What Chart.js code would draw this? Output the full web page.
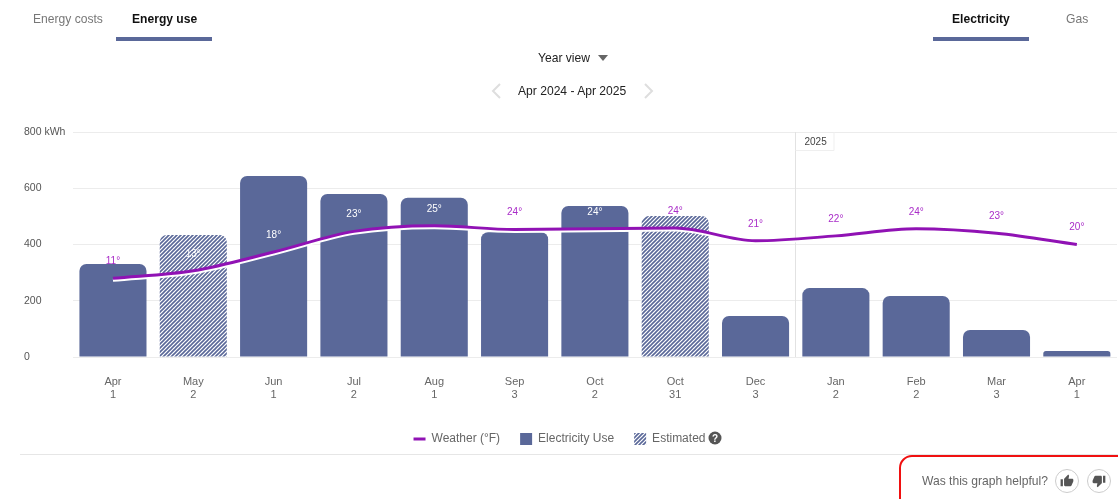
<!DOCTYPE html>
<html><head><meta charset="utf-8">
<script src="https://cdn.jsdelivr.net/npm/chart.js@4"></script>
<style>
html,body{margin:0;padding:0;background:#fff;overflow:hidden}
#wrap{position:relative;width:1118px;height:499px;overflow:hidden;font-family:"Liberation Sans",Arial,sans-serif}
canvas{position:absolute;left:0;top:0}
.t{position:absolute;white-space:nowrap;font-size:12.1px;line-height:16px;color:#777}
.b{font-weight:700;color:#111}
.u{position:absolute;height:4px;top:37px;background:#5a6899}
</style></head><body>
<div id="wrap">
<canvas id="c" width="1118" height="499"></canvas>
<div class="t" style="left:33px;top:11px">Energy costs</div>
<div class="t b" style="left:132px;top:11px">Energy use</div>
<div class="u" style="left:116px;width:96px"></div>
<div class="t b" style="left:952px;top:11px">Electricity</div>
<div class="t" style="left:1066px;top:11px">Gas</div>
<div class="u" style="left:933px;width:96px"></div>
<div class="t" style="left:538px;top:50px;color:#222">Year view</div>
<svg style="position:absolute;left:598px;top:55px" width="10" height="6"><path d="M0 0H10L5 6Z" fill="#666"/></svg>
<div class="t" style="left:518px;top:83px;color:#222">Apr 2024 - Apr 2025</div>
<svg style="position:absolute;left:490px;top:83px" width="12" height="16"><path d="M10 1L3 8L10 15" fill="none" stroke="#dedede" stroke-width="2"/></svg>
<svg style="position:absolute;left:643px;top:83px" width="12" height="16"><path d="M2 1L9 8L2 15" fill="none" stroke="#dedede" stroke-width="2"/></svg>
<svg style="position:absolute;left:708px;top:431px" width="14" height="14"><circle cx="7" cy="7" r="6.5" fill="#555"/><text x="7" y="10.5" text-anchor="middle" font-size="10" font-weight="700" fill="#fff" font-family="Liberation Sans">?</text></svg>
<div style="position:absolute;left:20px;right:0;top:454px;height:1px;background:#e6e6e6"></div>
<div style="position:absolute;left:899px;top:455px;width:260px;height:80px;border:2px solid #f01010;border-radius:13px"></div>
<div class="t" style="left:922px;top:473px;color:#666">Was this graph helpful?</div>
<svg style="position:absolute;left:1055px;top:469px" width="24" height="24" viewBox="0 0 24 24"><circle cx="12" cy="12" r="11.5" fill="#fff" stroke="#ccc"/><g transform="translate(5 5) scale(.58)"><path fill="#555" d="M1 21h4V9H1v12zm22-11c0-1.1-.9-2-2-2h-6.31l.95-4.57.03-.32c0-.41-.17-.79-.44-1.06L14.17 1 7.59 7.59C7.22 7.95 7 8.45 7 9v10c0 1.1.9 2 2 2h9c.83 0 1.54-.5 1.84-1.22l3.02-7.05c.09-.23.14-.47.14-.73v-2z"/></g></svg>
<svg style="position:absolute;left:1087px;top:469px" width="24" height="24" viewBox="0 0 24 24"><circle cx="12" cy="12" r="11.5" fill="#fff" stroke="#ccc"/><g transform="translate(5 5) scale(.58)"><path fill="#555" d="M15 3H6c-.83 0-1.54.5-1.84 1.22l-3.02 7.05c-.09.23-.14.47-.14.73v2c0 1.1.9 2 2 2h6.31l-.95 4.57-.03.32c0 .41.17.79.44 1.06L9.83 23l6.59-6.59c.36-.36.58-.86.58-1.41V5c0-1.1-.9-2-2-2zm4 0v12h4V3h-4z"/></g></svg>
</div>
<script>
const categories = [["Apr","1"],["May","2"],["Jun","1"],["Jul","2"],["Aug","1"],["Sep","3"],["Oct","2"],["Oct","31"],["Dec","3"],["Jan","2"],["Feb","2"],["Mar","3"],["Apr","1"]];
const electricityUse = [331,434,644,580,566,444,537,501,146,245,217,96,21];
const estimated = [false,true,false,false,false,false,false,true,false,false,false,false,false];
const weatherLine = [11,13,18,23.5,25,24,24.2,24.4,21,22.3,24.2,23,20];
const weatherLabels = ["11°","13°","18°","23°","25°","24°","24°","24°","21°","22°","24°","23°","20°"];
const yearStartIndex = 9;
const yearLabel = "2025";
const yTicks = [0,200,400,600,800];

const BAR = "#5a6899", PURPLE = "#9012b4", LABEL = "#a92cc8", GRID = "#ececec";
const FONT = '"Liberation Sans", Arial, sans-serif';

function hatch(){
  const s = document.createElement("canvas"); s.width = s.height = 4;
  const g = s.getContext("2d");
  g.fillStyle = "#fff"; g.fillRect(0,0,4,4);
  g.strokeStyle = BAR; g.lineWidth = 1.6;
  g.beginPath();
  g.moveTo(-1,1); g.lineTo(1,-1);
  g.moveTo(-1,5); g.lineTo(5,-1);
  g.moveTo(3,5); g.lineTo(5,3);
  g.stroke();
  return document.createElement("canvas").getContext("2d").createPattern(s,"repeat");
}
const HATCH = hatch();

const legendShift = {
  id:"legendShift",
  afterLayout(chart){ chart.legend.left-=11; chart.legend.right-=11; }
};
const lineHalo = {
  id:"lineHalo",
  beforeDatasetDraw(chart,args){
    if(chart.data.datasets[args.index].type==="line"){
      const c=chart.ctx; c.save();
      c.shadowColor="#fff"; c.shadowOffsetY=2; c.shadowBlur=0;
    }
  },
  afterDatasetDraw(chart,args){
    if(chart.data.datasets[args.index].type==="line") chart.ctx.restore();
  }
};
const yearMarker = {
  id:"yearMarker",
  beforeDatasetsDraw(chart){
    const c=chart.ctx,a=chart.chartArea,x=chart.scales.x;
    const px=Math.round((x.getPixelForValue(yearStartIndex-1)+x.getPixelForValue(yearStartIndex))/2)-0.5;
    c.save();
    c.strokeStyle="#e2e2e2"; c.lineWidth=1;
    c.beginPath(); c.moveTo(px,a.top); c.lineTo(px,a.bottom); c.stroke();
    c.strokeStyle="#efefef";
    c.beginPath(); c.moveTo(px,a.top+18.5); c.lineTo(px+38.5,a.top+18.5); c.lineTo(px+38.5,a.top); c.stroke();
    c.fillStyle="#444"; c.font="10px "+FONT; c.textAlign="left"; c.textBaseline="middle";
    c.fillText(yearLabel,px+9,a.top+10);
    c.restore();
  }
};
const tempLabels = {
  id:"tempLabels",
  afterDatasetsDraw(chart){
    const c=chart.ctx, pts=chart.getDatasetMeta(1).data, ys=chart.scales.y;
    c.save();
    c.font="10px "+FONT; c.textAlign="center"; c.textBaseline="middle";
    pts.forEach((p,i)=>{
      const ly=p.y-17;
      c.fillStyle = ly>ys.getPixelForValue(electricityUse[i]) ? "#fff" : LABEL;
      c.fillText(weatherLabels[i],p.x,ly);
    });
    c.restore();
  }
};

new Chart(document.getElementById("c"),{
  data:{
    labels:categories,
    datasets:[
      {type:"bar",label:"Electricity Use",data:electricityUse,yAxisID:"y",order:2,
       backgroundColor:ctx=>estimated[ctx.dataIndex]?HATCH:BAR,
       borderRadius:{topLeft:7,topRight:7,bottomLeft:0,bottomRight:0},borderSkipped:false,
       barPercentage:0.835,categoryPercentage:1},
      {type:"line",label:"Weather (°F)",data:weatherLine,yAxisID:"y2",order:1,
       borderColor:PURPLE,borderWidth:3,pointRadius:0,cubicInterpolationMode:"monotone",fill:false}
    ]
  },
  options:{
    responsive:false,animation:false,
    layout:{padding:{left:24,right:1,top:132,bottom:44}},
    scales:{
      x:{grid:{display:false},border:{display:false},
         ticks:{color:"#666",font:{family:FONT,size:11},padding:10,autoSkip:false,maxRotation:0},
         afterFit(s){s.height=56;}},
      y:{min:0,max:800,position:"left",border:{display:false},
         grid:{color:GRID,drawTicks:false},
         afterBuildTicks(s){s.ticks=yTicks.map(v=>({value:v}));},
         ticks:{color:"#555",font:{family:FONT,size:10.5},crossAlign:"far",padding:0,
                callback:v=>v===800?"800 kWh":v},
         afterFit(s){s.width=48.8;}},
      y2:{display:false,min:-10,max:50}
    },
    plugins:{
      tooltip:{enabled:false},
      legend:{position:"bottom",
        labels:{color:"#666",font:{family:FONT,size:12},usePointStyle:true,boxHeight:12,pointStyleWidth:12,padding:20,
          generateLabels:()=>[
            {text:"Weather (°F)",pointStyle:"line",strokeStyle:PURPLE,lineWidth:3,fillStyle:PURPLE,fontColor:"#666"},
            {text:"Electricity Use",pointStyle:"rect",fillStyle:BAR,strokeStyle:BAR,lineWidth:0,fontColor:"#666"},
            {text:"Estimated",pointStyle:"rect",fillStyle:HATCH,strokeStyle:BAR,lineWidth:0,fontColor:"#666"}
          ]}}
    }
  },
  plugins:[legendShift,lineHalo,yearMarker,tempLabels]
});
</script>
</body></html>
